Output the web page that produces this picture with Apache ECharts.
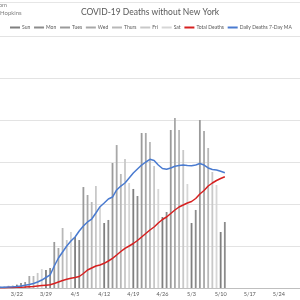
<!DOCTYPE html>
<html><head><meta charset="utf-8">
<script src="https://cdn.jsdelivr.net/npm/echarts@6/dist/echarts.min.js"></script>
<style>html,body{margin:0;padding:0;background:#fff}#c{width:300px;height:300px}</style>
</head><body><div id="c"></div>
<script>
const dates = [];
(function(){const m=[[3,16,31],[4,1,30],[5,1,31]];m.forEach(([mo,a,b])=>{for(let d=a;d<=b;d++)dates.push(mo+'/'+d);});})();
const weekdays = ['Sun','Mon','Tues','Wed','Thurs','Fri','Sat'];
const firstWeekday = 1; // 3/16 is a Monday
const dailyDeaths = [8,12,15,20,28,35,40,
60,71,143,143,179,226,214,
238,548,476,714,571,667,607,
571,1202,1107,1024,1214,964,774,
810,1488,1702,1357,1536,1250,1179,
1095,1845,1845,1738,1452,1179,845,
905,1881,2024,1881,1643,1238,774,
929,2000,1869,1667,1381,1226,667,786];
const movingAvg = [6,6,8,10,12,14,18,
24,32,42,54,71,95,125,
155,262,357,429,500,560,607,
679,738,786,821,893,968,1012,
1060,1083,1167,1214,1250,1310,1369,
1417,1464,1500,1532,1518,1464,1423,
1413,1429,1449,1458,1464,1458,1456,
1464,1482,1464,1429,1411,1405,1389,1373];
const totalDeaths = [60,80,110,150,200,260,300,
380,476,619,762,952,1143,1333,
1524,2143,2857,3571,4143,4619,5000,
5476,6905,8571,9524,10476,10952,11762,
12857,14143,15714,17381,18905,20000,21190,
22619,24286,25952,27619,29048,30952,32619,
33810,35476,37143,38571,39524,40476,41190,
42619,44762,46429,48571,50000,51190,52143,53000];
const barColors = ['#7f7f7f','#8c8c8c','#9a9a9a','#a8a8a8','#b8b8b8','#c8c8c8','#d6d6d6'];

const chart = echarts.init(document.getElementById('c'));
const font = 'Lato, "Liberation Sans", sans-serif';
const barSeries = weekdays.map((name, k) => ({
  name, type: 'bar', stack: 'd', barWidth: 1.8,
  itemStyle: {color: barColors[k]},
  data: dates.map((_, i) => (i < dailyDeaths.length && (i + firstWeekday) % 7 === k) ? dailyDeaths[i] : null)
}));
chart.setOption({
  animation: false,
  title: {text: 'COVID-19 Deaths without New York', left: 'center', top: 3,
    textStyle: {fontSize: 8.5, fontWeight: 'normal', color: '#595959', fontFamily: font}},
  legend: {top: 20, left: 5, width: 320, itemWidth: 10, itemHeight: 2, itemGap: 3.8, icon: 'rect',
    textStyle: {fontSize: 5, color: '#595959', fontFamily: font, padding: [0,0,0,-3]},
    data: weekdays.concat(['Total Deaths','Daily Deaths 7-Day MA'])},
  graphic: [
    {type: 'text', right: 293, top: 2, style: {text: 'Data from', fontSize: 6, fill: '#7f7f7f', fontFamily: font}},
    {type: 'text', left: 0, top: 10, style: {text: 'Hopkins', fontSize: 6, fill: '#7f7f7f', fontFamily: font}},
    {type: 'line', shape: {x1: 0, y1: 2.5, x2: 300, y2: 2.5}, style: {stroke: '#e6e6e6', lineWidth: 1}}
  ],
  grid: {left: -10.2, right: -10.1, top: 36, bottom: 12, containLabel: false, outerBoundsMode: 'none'},
  xAxis: {type: 'category', data: dates, boundaryGap: true,
    axisLine: {lineStyle: {color: '#bfbfbf'}}, axisTick: {show: false},
    axisLabel: {interval: (i) => (i - 6) % 7 === 0, fontSize: 5.5, color: '#595959', margin: 3, fontFamily: font, hideOverlap: false}},
  yAxis: [
    {type: 'value', min: 0, max: 3000, interval: 500, axisLabel: {show: false},
      axisLine: {show: false}, axisTick: {show: false}, splitLine: {lineStyle: {color: '#e3e3e3'}}},
    {type: 'value', min: 0, max: 120000, interval: 20000, axisLabel: {show: false},
      axisLine: {show: false}, axisTick: {show: false}, splitLine: {show: false}}
  ],
  series: barSeries.concat([
    {name: 'Total Deaths', type: 'line', yAxisIndex: 1, data: totalDeaths, showSymbol: false, symbol: 'none',
      lineStyle: {color: '#d62020', width: 1.5}, itemStyle: {color: '#d62020'}},
    {name: 'Daily Deaths 7-Day MA', type: 'line', data: movingAvg, showSymbol: false, symbol: 'none',
      lineStyle: {color: '#4a7bd0', width: 1.5}, itemStyle: {color: '#4a7bd0'}}
  ])
});
</script></body></html>
